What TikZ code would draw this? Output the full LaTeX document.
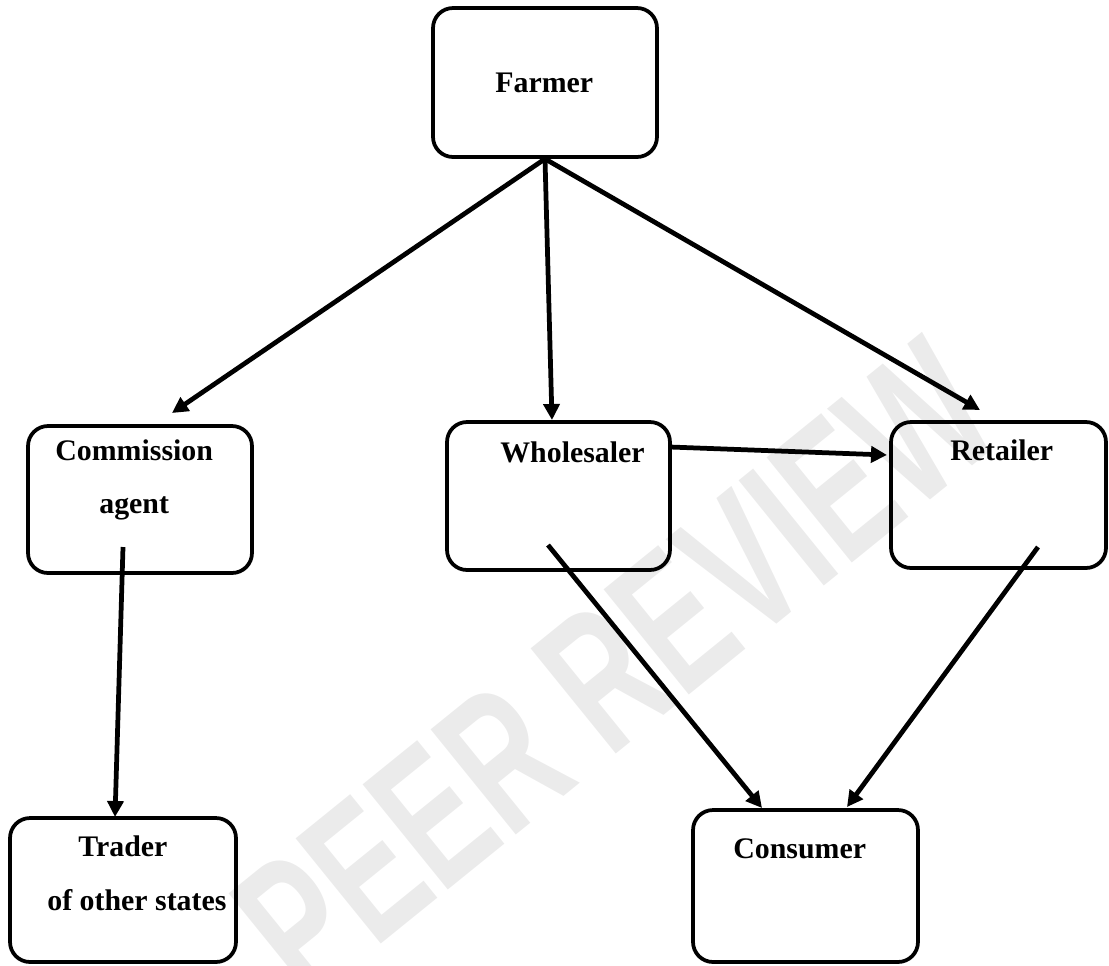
\documentclass[tikz,border=0pt]{standalone}
\usepackage{fontspec}
\setmainfont{Liberation Serif}
\newfontfamily\markfont{Liberation Sans}
\usetikzlibrary{arrows.meta}

\tikzset{
  stage/.style={draw, rounded corners=0.4cm, line width=0.075cm, inner sep=0pt},
  lbl/.style={anchor=base west, inner sep=0pt, font=\bfseries\fontsize{17}{20}\selectfont},
  flow/.style={line width=0.095cm, -{Triangle[length=0.32cm,width=0.32cm]}},
}

\begin{document}
\begin{tikzpicture}[x=0.02cm, y=-0.02cm]
\useasboundingbox (0,0) rectangle (1109,965);
\node[rotate=39, xscale=0.66, text=gray!16, font=\markfont\bfseries\fontsize{112}{112}\selectfont] (mark) at (615,668) {PEER REVIEW};
\node[stage, minimum width=4.48cm, minimum height=2.98cm] (farmer) at (545,82.5) {};
\node[stage, minimum width=4.48cm, minimum height=2.94cm] (agent) at (140,499.5) {};
\node[stage, minimum width=4.46cm, minimum height=2.96cm] (wsaler) at (558.5,496) {};
\node[stage, minimum width=4.3cm, minimum height=2.92cm] (retailer) at (998.5,495) {};
\node[stage, minimum width=4.52cm, minimum height=2.88cm] (trader) at (123,890) {};
\node[stage, minimum width=4.5cm, minimum height=3.04cm] (consumer) at (805.5,886) {};
\node[lbl] (farmerT) at (495,92) {Farmer};
\node[lbl] (agentT) at (55,460) {Commission};
\node[lbl] (agentT2) at (99,513) {agent};
\node[lbl] (wsalerT) at (500,462) {Wholesaler};
\node[lbl] (retailerT) at (950,460) {Retailer};
\node[lbl] (traderT) at (78,856) {Trader};
\node[lbl] (traderT2) at (47,910) {of other states};
\node[lbl] (consumerT) at (733,858) {Consumer};
\coordinate (agentIn) at (172,413);
\coordinate (wsalerIn) at (552,420);
\coordinate (retailerIn) at (980,410);
\coordinate (wsalerOut) at (670,447);
\coordinate (retailerW) at (887,455);
\coordinate (agentOut) at (123,547);
\coordinate (traderIn) at (115,817);
\coordinate (wsalerDown) at (548,545);
\coordinate (consumerL) at (762,808);
\coordinate (retailerDown) at (1038,547);
\coordinate (consumerR) at (847,807);
\draw[flow] (farmer.south) -- (agentIn);
\draw[flow] (farmer.south) -- (wsalerIn);
\draw[flow] (farmer.south) -- (retailerIn);
\draw[flow] (wsalerOut) -- (retailerW);
\draw[flow] (agentOut) -- (traderIn);
\draw[flow] (wsalerDown) -- (consumerL);
\draw[flow] (retailerDown) -- (consumerR);
\end{tikzpicture}
\end{document}
